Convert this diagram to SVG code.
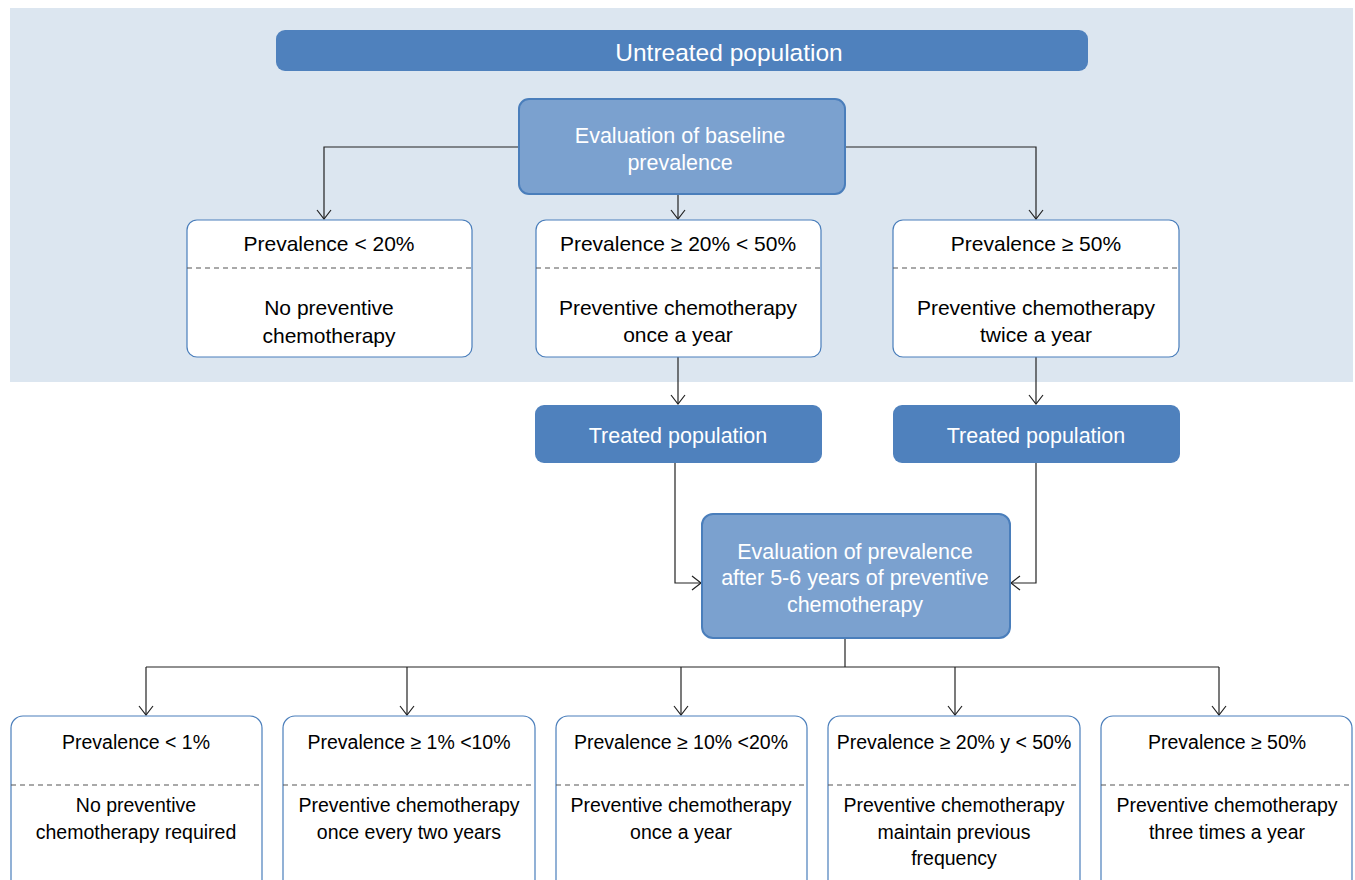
<svg xmlns="http://www.w3.org/2000/svg" width="1355" height="880" viewBox="0 0 1355 880">
<style>
.dark{fill:#4f81bd;}
.mid{fill:#7ba1cf;stroke:#4a7ebb;stroke-width:2;}
.wb{fill:#fff;stroke:#4a7ebb;stroke-width:1.2;}
.dash{stroke:#555;stroke-width:1.2;stroke-dasharray:5 4;}
.wt{font-family:"Liberation Sans",Arial,sans-serif;fill:#fff;text-anchor:middle;}
.bt{font-family:"Liberation Sans",Arial,sans-serif;fill:#000;text-anchor:middle;}
.c{fill:none;stroke:#222;stroke-width:1.2;marker-end:url(#ah);}
.cn{fill:none;stroke:#222;stroke-width:1.2;}
</style>
<defs>
<marker id="ah" viewBox="0 0 16 16" refX="15" refY="8" markerWidth="16" markerHeight="16" markerUnits="userSpaceOnUse" orient="auto">
<polyline points="6,1 15,8 6,15" fill="none" stroke="#222" stroke-width="1.2"/>
</marker>
</defs>
<rect x="10" y="8" width="1343" height="374" fill="#dce6f0"/>
<g id="connectors">
<polyline class="c" points="519,147 324,147 324,219"/>
<polyline class="c" points="678,194 678,219"/>
<polyline class="c" points="845,147 1036,147 1036,219"/>
<polyline class="c" points="678,357 678,404"/>
<polyline class="c" points="1036,357 1036,404"/>
<polyline class="c" points="675,463 675,583 701,583"/>
<polyline class="c" points="1036,463 1036,583 1011,583"/>
<polyline class="cn" points="845,638 845,667"/>
<polyline class="cn" points="146,667 1219,667"/>
<polyline class="c" points="146,667 146,715"/>
<polyline class="c" points="407,667 407,715"/>
<polyline class="c" points="681,667 681,715"/>
<polyline class="c" points="955,667 955,715"/>
<polyline class="c" points="1219,667 1219,715"/>
</g>
<g id="untreated">
<rect class="dark" x="276" y="30" width="812" height="41" rx="9"/>
<text class="wt" x="729" y="61" font-size="24.5">Untreated population</text>
</g>
<g id="eval-baseline">
<rect class="mid" x="519" y="99" width="326" height="95" rx="10"/>
<text class="wt" x="680" y="143" font-size="21.5">Evaluation of baseline</text>
<text class="wt" x="680" y="170" font-size="21.5">prevalence</text>
</g>
<g id="p-lt20">
<rect class="wb" x="187" y="220" width="285" height="137" rx="10"/>
<text class="bt" x="329" y="251" font-size="21">Prevalence &lt; 20%</text>
<line class="dash" x1="187" y1="268" x2="472" y2="268"/>
<text class="bt" x="329" y="315" font-size="21">No preventive</text>
<text class="bt" x="329" y="343" font-size="21">chemotherapy</text>
</g>
<g id="p-20-50">
<rect class="wb" x="536" y="220" width="285" height="137" rx="10"/>
<text class="bt" x="678" y="251" font-size="21">Prevalence ≥ 20% &lt; 50%</text>
<line class="dash" x1="536" y1="268" x2="821" y2="268"/>
<text class="bt" x="678" y="315" font-size="21">Preventive chemotherapy</text>
<text class="bt" x="678" y="342" font-size="21">once a year</text>
</g>
<g id="p-ge50">
<rect class="wb" x="893" y="220" width="286" height="137" rx="10"/>
<text class="bt" x="1036" y="251" font-size="21">Prevalence ≥ 50%</text>
<line class="dash" x1="893" y1="268" x2="1179" y2="268"/>
<text class="bt" x="1036" y="315" font-size="21">Preventive chemotherapy</text>
<text class="bt" x="1036" y="342" font-size="21">twice a year</text>
</g>
<g id="treated-1">
<rect class="dark" x="535" y="405" width="287" height="58" rx="9"/>
<text class="wt" x="678" y="443" font-size="21.5">Treated population</text>
</g>
<g id="treated-2">
<rect class="dark" x="893" y="405" width="287" height="58" rx="9"/>
<text class="wt" x="1036" y="443" font-size="21.5">Treated population</text>
</g>
<g id="eval-after">
<rect class="mid" x="702" y="514" width="308" height="124" rx="11"/>
<text class="wt" x="855" y="559" font-size="21.5">Evaluation of prevalence</text>
<text class="wt" x="855" y="585" font-size="21.5">after 5-6 years of preventive</text>
<text class="wt" x="855" y="612" font-size="21.5">chemotherapy</text>
</g>
<g id="b1">
<rect class="wb" x="11" y="716" width="251" height="190" rx="12"/>
<text class="bt" x="136" y="749" font-size="19.5">Prevalence &lt; 1%</text>
<line class="dash" x1="11" y1="785" x2="262" y2="785"/>
<text class="bt" x="136" y="812" font-size="19.5">No preventive</text>
<text class="bt" x="136" y="839" font-size="19.5">chemotherapy required</text>
</g>
<g id="b2">
<rect class="wb" x="283" y="716" width="252" height="190" rx="12"/>
<text class="bt" x="409" y="749" font-size="19.5">Prevalence ≥ 1% &lt;10%</text>
<line class="dash" x1="283" y1="785" x2="535" y2="785"/>
<text class="bt" x="409" y="812" font-size="19.5">Preventive chemotherapy</text>
<text class="bt" x="409" y="839" font-size="19.5">once every two years</text>
</g>
<g id="b3">
<rect class="wb" x="556" y="716" width="251" height="190" rx="12"/>
<text class="bt" x="681" y="749" font-size="19.5">Prevalence ≥ 10% &lt;20%</text>
<line class="dash" x1="556" y1="785" x2="807" y2="785"/>
<text class="bt" x="681" y="812" font-size="19.5">Preventive chemotherapy</text>
<text class="bt" x="681" y="839" font-size="19.5">once a year</text>
</g>
<g id="b4">
<rect class="wb" x="828" y="716" width="252" height="190" rx="12"/>
<text class="bt" x="954" y="749" font-size="19.5">Prevalence ≥ 20% y &lt; 50%</text>
<line class="dash" x1="828" y1="785" x2="1080" y2="785"/>
<text class="bt" x="954" y="812" font-size="19.5">Preventive chemotherapy</text>
<text class="bt" x="954" y="839" font-size="19.5">maintain previous</text>
<text class="bt" x="954" y="865" font-size="19.5">frequency</text>
</g>
<g id="b5">
<rect class="wb" x="1101" y="716" width="251" height="190" rx="12"/>
<text class="bt" x="1227" y="749" font-size="19.5">Prevalence ≥ 50%</text>
<line class="dash" x1="1101" y1="785" x2="1352" y2="785"/>
<text class="bt" x="1227" y="812" font-size="19.5">Preventive chemotherapy</text>
<text class="bt" x="1227" y="839" font-size="19.5">three times a year</text>
</g>
</svg>
